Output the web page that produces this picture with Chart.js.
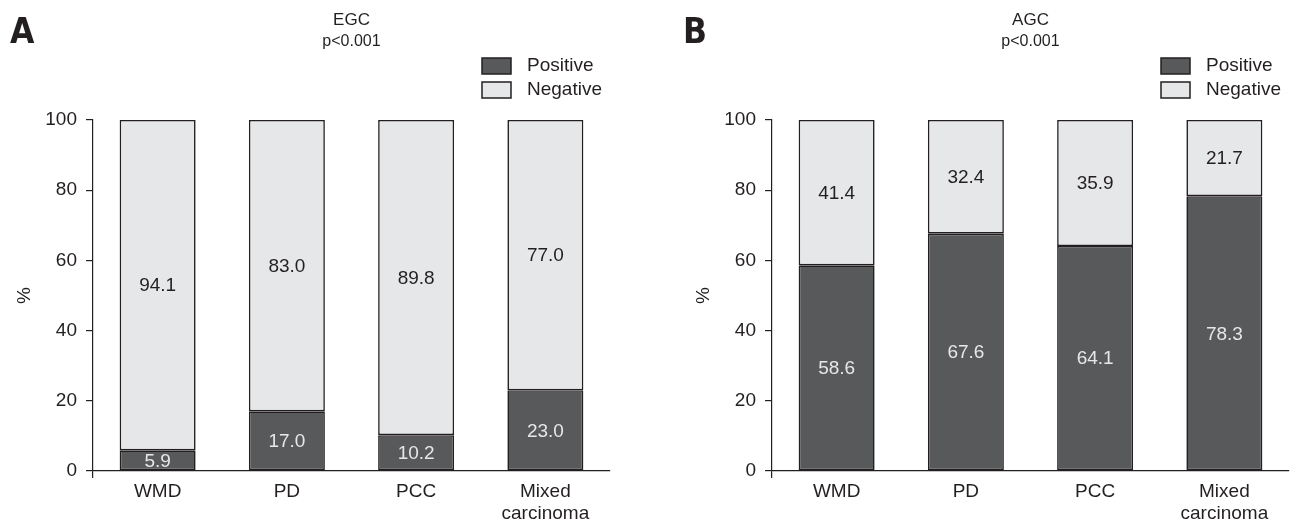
<!DOCTYPE html>
<html>
<head>
<meta charset="utf-8">
<script src="https://cdn.jsdelivr.net/npm/chart.js@4.4.0/dist/chart.umd.min.js"></script>
<style>
    html, body { margin: 0; padding: 0; background: #fff; }
    .panel { position: absolute; top: 0; width: 646px; height: 525px; }
    #panel-a { left: 0; }
    #panel-b { left: 646px; }
</style>
</head>
<body>
<div class="panel" id="panel-a"><canvas id="chart-a"></canvas></div>
<div class="panel" id="panel-b"><canvas id="chart-b"></canvas></div>
<script>
// Data
const categories = ['WMD', 'PD', 'PCC', ['Mixed', 'carcinoma']];
const egcPositive = [5.9, 17.0, 10.2, 23.0];
const egcNegative = [94.1, 83.0, 89.8, 77.0];
const agcPositive = [58.6, 67.6, 64.1, 78.3];
const agcNegative = [41.4, 32.4, 35.9, 21.7];
const yTicks = [0, 20, 40, 60, 80, 100];

const INK = '#231f20';
const DARK = '#58595b';
const LIGHT = '#e6e7e8';
const FONT = '"Liberation Sans", Arial, sans-serif';

Chart.defaults.font.family = FONT;
Chart.defaults.color = INK;
Chart.defaults.animation = false;

// Titles, legend, value labels and panel letter
const decorations = {
    id: 'decorations',
    afterDatasetsDraw(chart, args, opts) {
        const ctx = chart.ctx;
        const area = chart.chartArea;
        ctx.save();

        // value labels
        ctx.font = '19px ' + FONT;
        ctx.textAlign = 'center';
        ctx.textBaseline = 'middle';
        chart.data.datasets.forEach((ds, di) => {
            const meta = chart.getDatasetMeta(di);
            meta.data.forEach((bar, i) => {
                ctx.fillStyle = di === 0 ? '#e6e7e8' : INK;
                ctx.fillText(ds.data[i].toFixed(1), bar.x, (bar.y + bar.base) / 2 + 1);
            });
        });

        // panel letter
        ctx.font = 'bold 35px "Liberation Sans Narrow", "DejaVu Sans Condensed", sans-serif';
        ctx.textAlign = 'left';
        ctx.fillStyle = INK;
        ctx.fillText(opts.letter, area.left + opts.letterDx, 34);

        // title + p value
        const cx = (area.left + area.right) / 2;
        ctx.font = '17px ' + FONT;
        ctx.textAlign = 'center';
        ctx.fillText(opts.title, cx, 20);
        ctx.font = '16px ' + FONT;
        ctx.fillText('p<0.001', cx, 42);

        // y axis title
        ctx.save();
        ctx.translate(area.left - 68, (area.top + area.bottom) / 2);
        ctx.rotate(-Math.PI / 2);
        ctx.font = '19px ' + FONT;
        ctx.fillText('%', 0, 0);
        ctx.restore();

        // legend
        const bx = area.right - 128;
        const rows = [[58, 66], [82, 90]];
        chart.data.datasets.forEach((ds, di) => {
            const [top, mid] = rows[di];
            ctx.fillStyle = ds.backgroundColor;
            ctx.fillRect(bx, top, 29, 16);
            ctx.strokeStyle = INK;
            ctx.lineWidth = 1.5;
            ctx.strokeRect(bx, top, 29, 16);
            ctx.fillStyle = INK;
            ctx.font = '19px ' + FONT;
            ctx.textAlign = 'left';
            ctx.fillText(ds.label, bx + 45, mid);
        });

        ctx.restore();
    }
};

function makeChart(id, positive, negative, title, letter, padLeft, padRight, letterDx) {
    const ctx = document.getElementById(id).getContext('2d');
    return new Chart(ctx, {
        type: 'bar',
        data: {
            labels: categories,
            datasets: [{
                label: 'Positive',
                data: positive,
                backgroundColor: DARK,
                borderColor: INK,
                borderWidth: 1.6,
                borderSkipped: false
            }, {
                label: 'Negative',
                data: negative,
                backgroundColor: LIGHT,
                borderColor: INK,
                borderWidth: 1.6,
                borderSkipped: false
            }]
        },
        options: {
            responsive: true,
            maintainAspectRatio: false,
            datasets: {
                bar: {
                    categoryPercentage: 1,
                    barPercentage: 0.588
                }
            },
            layout: {
                padding: { left: padLeft, right: padRight, top: 120, bottom: 0 }
            },
            plugins: {
                legend: { display: false },
                tooltip: { enabled: false },
                decorations: { title: title, letter: letter, letterDx: letterDx }
            },
            scales: {
                x: {
                    stacked: true,
                    offset: true,
                    afterFit: (scale) => { scale.height = 54; },
                    border: { display: true, color: INK, width: 1.2 },
                    grid: {
                        offset: true,
                        drawOnChartArea: false,
                        drawTicks: true,
                        tickLength: 7,
                        lineWidth: 1.2,
                        color: (c) => (c.index === 0 || c.index === categories.length) ? INK : 'rgba(0,0,0,0)'
                    },
                    ticks: {
                        padding: 3,
                        font: { size: 19, lineHeight: 1.15 },
                        color: INK,
                        maxRotation: 0
                    }
                },
                y: {
                    stacked: true,
                    min: 0,
                    max: 100,
                    afterFit: (scale) => { scale.width = 93; },
                    afterBuildTicks: (scale) => { scale.ticks = yTicks.map(v => ({ value: v })); },
                    border: { display: true, color: INK, width: 1.2 },
                    grid: {
                        drawOnChartArea: false,
                        drawTicks: true,
                        tickLength: 7,
                        lineWidth: 1.2,
                        color: INK
                    },
                    ticks: {
                        padding: 9,
                        font: { size: 19 },
                        color: INK
                    }
                }
            }
        },
        plugins: [decorations]
    });
}

makeChart('chart-a', egcPositive, egcNegative, 'EGC', 'A', 0, 36, -83);
makeChart('chart-b', agcPositive, agcNegative, 'AGC', 'B', 33, 3, -89);
</script>
</body>
</html>
